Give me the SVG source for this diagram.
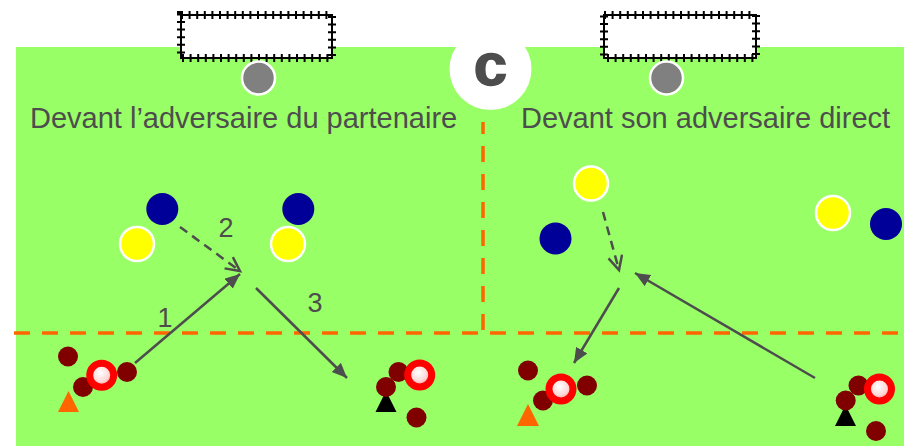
<svg xmlns="http://www.w3.org/2000/svg" width="904" height="446" viewBox="0 0 904 446">
<defs>
<style>
.lbl{font-family:"Liberation Sans",Arial,sans-serif;fill:#4d4d4d}
.net{fill:#fff;stroke:#000;stroke-width:2}
.tick{fill:none;stroke:#000;stroke-width:8;stroke-dasharray:2 5.6}
.gk{fill:#808080;stroke:#fff;stroke-width:2.5}
.blue{fill:#000099}
.yel{fill:#ffff00;stroke:#fff;stroke-width:2.5}
.dr{fill:#800000}
.ring{fill:url(#rg);stroke:#ff0000;stroke-width:7}
.mv{fill:none;stroke:#4d4d4d;stroke-width:2.5}
.dash{stroke-dasharray:9 6}
.zone{fill:none;stroke:#ff6600;stroke-width:3.5;stroke-dasharray:16 12}
</style>
<radialGradient id="rg" cx="0.45" cy="0.4" r="0.6">
<stop offset="0" stop-color="#ffffff"/>
<stop offset="0.6" stop-color="#ffd6d6"/>
<stop offset="1" stop-color="#ff8080"/>
</radialGradient>
<marker id="ah" markerUnits="userSpaceOnUse" markerWidth="16" markerHeight="14" refX="15" refY="6.5" orient="auto">
<path d="M0,0 L15,6.5 L0,13 z" fill="#4d4d4d"/>
</marker>
<marker id="ao" markerUnits="userSpaceOnUse" markerWidth="20" markerHeight="20" refX="15" refY="8" orient="auto">
<path d="M1,1 L15,8 L1,15" fill="none" stroke="#4d4d4d" stroke-width="2.5"/>
</marker>
</defs>
<rect width="904" height="446" fill="#ffffff"/>
<rect id="field" x="16" y="47" width="888" height="399" fill="#99ff66"/>
<g id="zones">
<line class="zone" x1="14" y1="333" x2="904" y2="333"/>
<line class="zone" x1="483" y1="122" x2="483" y2="333" stroke-dashoffset="4"/>
</g>
<g id="goal-left">
<rect class="net" x="181" y="15" width="151" height="43"/>
<rect class="tick" x="181" y="15" width="151" height="43"/>
</g>
<g id="goal-right">
<rect class="net" x="604" y="15" width="152" height="43"/>
<rect class="tick" x="604" y="15" width="152" height="43"/>
</g>
<g id="gk-left"><circle class="gk" cx="258.5" cy="78" r="16.5"/></g>
<g id="gk-right"><circle class="gk" cx="666.5" cy="78" r="16.5"/></g>
<g id="badge">
<circle cx="490.5" cy="69" r="41" fill="#ffffff"/>
<text class="lbl" x="490.5" y="85" text-anchor="middle" font-size="60" font-weight="bold" stroke="#4d4d4d" stroke-width="1.5">c</text>
</g>
<g id="titles">
<text class="lbl" x="30" y="128" font-size="29">Devant l’adversaire du partenaire</text>
<text class="lbl" x="521" y="128" font-size="29">Devant son adversaire direct</text>
</g>
<g id="defenders">
<circle class="blue" cx="162.3" cy="209" r="16"/>
<circle class="blue" cx="298.3" cy="209" r="16"/>
<circle class="blue" cx="555.5" cy="238.5" r="16"/>
<circle class="blue" cx="886" cy="224" r="16"/>
</g>
<g id="attackers">
<circle class="yel" cx="137" cy="244" r="17"/>
<circle class="yel" cx="288" cy="244" r="17"/>
<circle class="yel" cx="591" cy="183.5" r="17"/>
<circle class="yel" cx="833" cy="213" r="17"/>
</g>
<g id="connectors">
<line class="mv" x1="135" y1="363" x2="240" y2="274" marker-end="url(#ah)"/>
<line class="mv dash" x1="180" y1="227" x2="240" y2="271" marker-end="url(#ao)"/>
<line class="mv" x1="256" y1="288" x2="347" y2="378" marker-end="url(#ah)"/>
<line class="mv dash" x1="603" y1="212" x2="619" y2="270" marker-end="url(#ao)"/>
<line class="mv" x1="619" y1="288" x2="574" y2="363" marker-end="url(#ah)"/>
<line class="mv" x1="815" y1="378" x2="635" y2="273" marker-end="url(#ah)"/>
</g>
<g id="numbers">
<text class="lbl" x="165" y="327" font-size="27" text-anchor="middle">1</text>
<text class="lbl" x="226" y="237" font-size="27" text-anchor="middle">2</text>
<text class="lbl" x="315" y="312" font-size="27" text-anchor="middle">3</text>
</g>
<g id="group-1">
<polygon points="68.5,391 58,412 79,412" fill="#ff6600"/>
<circle class="dr" cx="68" cy="356.5" r="10"/>
<circle class="dr" cx="83" cy="387" r="10"/>
<circle class="dr" cx="127" cy="372" r="10"/>
<circle class="ring" cx="101.7" cy="375.3" r="12"/>
</g>
<g id="group-2">
<polygon points="386,391 375.5,412 396.5,412" fill="#000000"/>
<circle class="dr" cx="398.5" cy="372" r="10"/>
<circle class="dr" cx="386" cy="387" r="10"/>
<circle class="dr" cx="416.5" cy="417.5" r="10"/>
<circle class="ring" cx="419.7" cy="375" r="12"/>
</g>
<g id="group-3">
<polygon points="528,404 517,426 539,426" fill="#ff6600"/>
<circle class="dr" cx="528" cy="370.5" r="10"/>
<circle class="dr" cx="543" cy="400.5" r="10"/>
<circle class="dr" cx="587" cy="385.5" r="10"/>
<circle class="ring" cx="561" cy="389" r="12"/>
</g>
<g id="group-4">
<polygon points="845.5,405 835,426 856,426" fill="#000000"/>
<circle class="dr" cx="858.5" cy="385.5" r="10"/>
<circle class="dr" cx="845.7" cy="400.5" r="10"/>
<circle class="dr" cx="876" cy="431" r="10"/>
<circle class="ring" cx="879.5" cy="389" r="12"/>
</g>
</svg>
